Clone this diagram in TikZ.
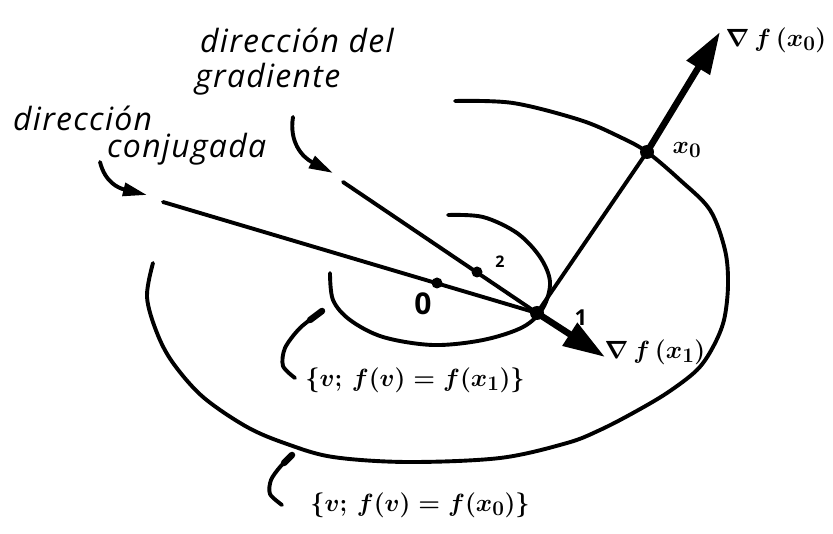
\documentclass[tikz,border=0pt]{standalone}
\usepackage{fontspec}
\setmainfont{Open Sans}
\usetikzlibrary{arrows.meta}
\begin{document}
\begin{tikzpicture}[x=1pt,y=-1pt, line cap=round, line join=round,
  curve/.style={line width=3.9pt},
  grad/.style={line width=6.5pt,-{Triangle[length=42pt,width=26pt]}},
  pointer/.style={line width=3.9pt,-{Triangle[length=24pt,width=13pt]}},
  hook/.style={line width=3.9pt},
  lbl/.style={font=\itshape\fontsize{32}{36}\selectfont\addfontfeature{LetterSpace=4}, inner sep=0pt},
  mlbl/.style={font=\boldmath\fontsize{31}{34}\selectfont, inner sep=0pt},
  slbl/.style={font=\bfseries\fontsize{30}{32}\selectfont, inner sep=0pt},
  dot/.style={circle, fill, inner sep=0pt, minimum size=14pt},
  sdot/.style={circle, fill, inner sep=0pt, minimum size=11pt}]
\useasboundingbox (0,0) rectangle (833,534);
% key points
\coordinate (X0) at (647,152);
\coordinate (X1) at (537,313);
\coordinate (P0) at (437,283);
\coordinate (P2) at (477,272);
\coordinate (G0) at (720,32);
\coordinate (G1) at (605,357);
\coordinate (CS) at (163,202);
\coordinate (GS) at (343,182);
% outer level curve
\draw[curve] plot[smooth, tension=0.55] coordinates {(455,101) (513,103) (580,120) (620,137) (647,152) (680,180) (710,210) (725,250) (728,285) (724,320) (713,347) (697,370) (667,393) (633,413) (600,430) (567,443) (500,458) (407,462) (333,457) (287,444) (247,427) (203,397) (173,363) (157,333) (147,297) (153,263)};
% inner level curve
\draw[curve] plot[smooth, tension=0.55] coordinates {(448,215) (483,217) (517,233) (540,257) (550,282) (543,308) (523,327) (483,340) (433,345) (383,337) (350,320) (333,300) (330,273)};
% lines
\draw[curve] (CS) -- (X1);
\draw[curve] (GS) -- (X1);
\draw[curve] (X1) -- (X0);
\draw[grad] (X0) -- (G0);
\draw[grad] (X1) -- (G1);
% dots
\node[dot] (x0dot) at (X0) {};
\node[dot] (x1dot) at (X1) {};
\node[sdot] (p0dot) at (P0) {};
\node[sdot] (p2dot) at (P2) {};
% pointers
\coordinate (cjA) at (100,162);
\coordinate (cjB) at (147,195);
\coordinate (grA) at (293,117);
\coordinate (grB) at (333,173);
\draw[pointer] (cjA) .. controls (105,182) and (118,188) .. (cjB);
\draw[pointer] (grA) .. controls (289,142) and (302,157) .. (grB);
% hooks to set labels
\draw[hook] plot[smooth] coordinates {(322,311) (300,328) (285,348) (283,366) (295,378)};
\draw[line width=6.5pt] (322,311) -- (310,320);
\draw[hook] plot[smooth] coordinates {(292,455) (280,467) (271,480) (270,494) (282,505)};
\draw[line width=6.5pt] (292,455) -- (284,463);
% labels
\node[lbl, anchor=base west] (t1) at (200,53) {dirección del};
\node[lbl, anchor=base west] (t2) at (195,88) {gradiente};
\node[lbl, anchor=base west] (t3) at (13,131) {dirección};
\node[lbl, anchor=base west] (t4) at (107,158) {conjugada};
\node[mlbl] (lx0) at (687,150) {$x_0$};
\node[mlbl] (lg0) at (776,40) {$\nabla\, f\,(x_0)$};
\node[mlbl] (lg1) at (655,352) {$\nabla\, f\,(x_1)$};
\node[slbl] (l0) at (423,304) {0};
\node[font=\bfseries\fontsize{16}{18}\selectfont, inner sep=0pt] (l2) at (500,262) {2};
\node[font=\bfseries\fontsize{22}{24}\selectfont, inner sep=0pt] (l1) at (581,318) {1};
\node[mlbl] (s1) at (415,380) {$\{v;\, f(v)=f(x_1)\}$};
\node[mlbl] (s0) at (420,505) {$\{v;\, f(v)=f(x_0)\}$};
\end{tikzpicture}
\end{document}
